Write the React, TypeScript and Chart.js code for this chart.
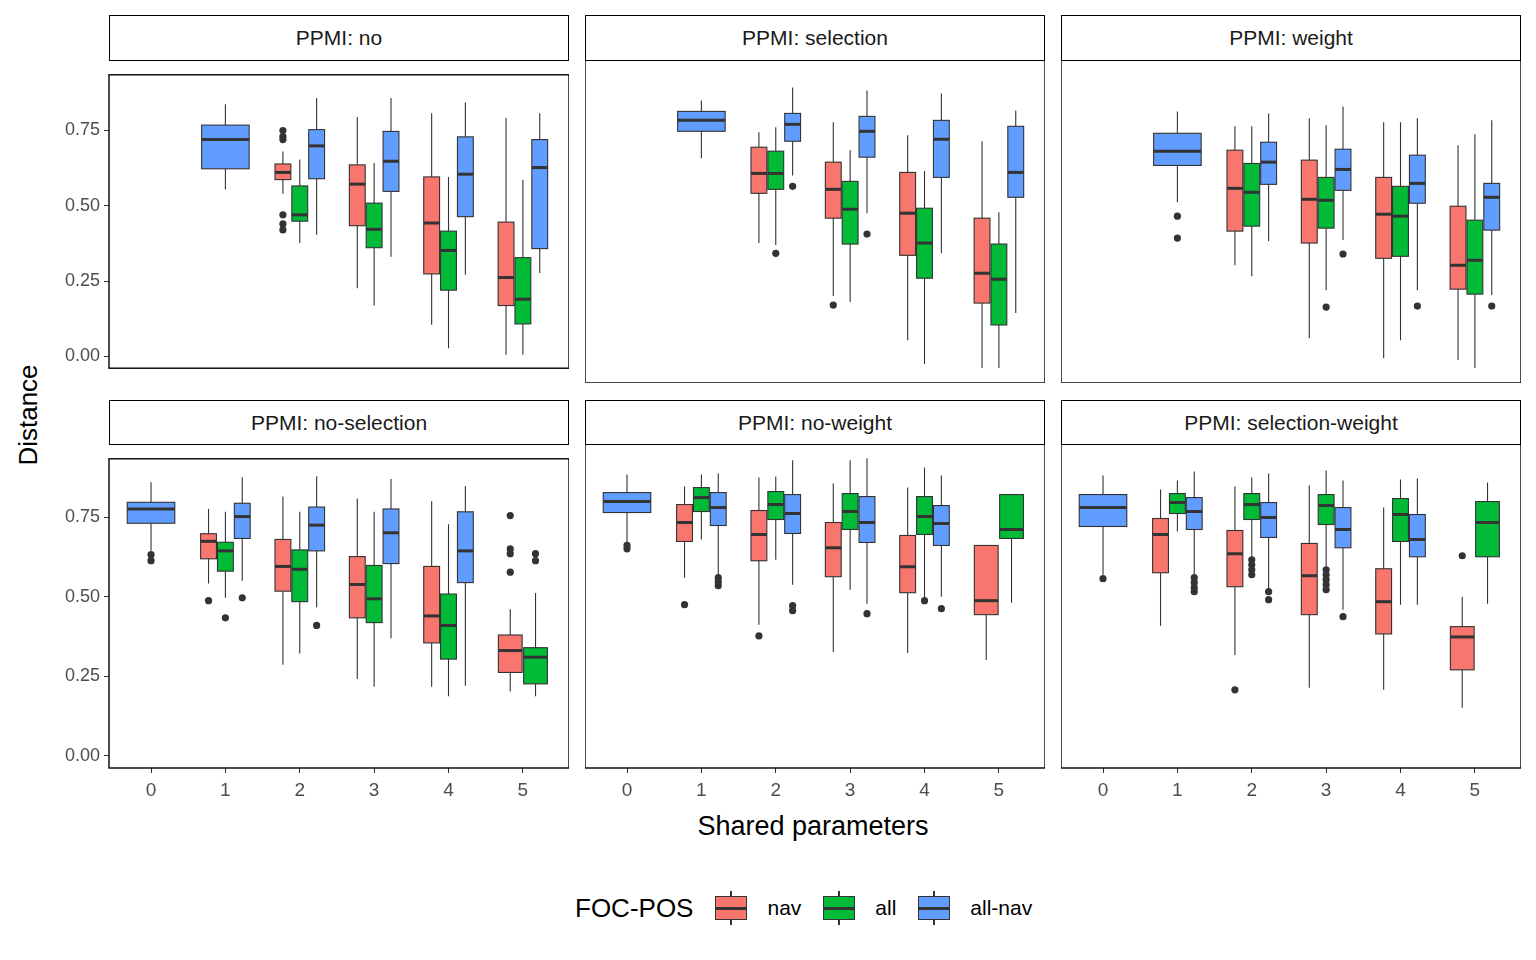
import React, { useEffect, useRef } from "react";
import { Chart, registerables } from "chart.js";
Chart.register(...registerables);

const categories = [0, 1, 2, 3, 4, 5];
const groups = ["nav", "all", "all-nav"];
const groupColors = ["#F8766D", "#00BA38", "#619CFF"];
const yTicks = [0, 0.25, 0.5, 0.75];
const panelTitles = ["PPMI: no", "PPMI: selection", "PPMI: weight", "PPMI: no-selection", "PPMI: no-weight", "PPMI: selection-weight"];

// [category, groupIndex, whiskerLow, q1, median, q3, whiskerHigh, outliers]
type Box = [number, number, number, number, number, number, number, number[]];

const ppmiNo: Box[] = [
  [1, 2, 0.554, 0.623, 0.72, 0.768, 0.837, []],
  [2, 0, 0.54, 0.587, 0.611, 0.639, 0.68, [0.75, 0.73, 0.72, 0.47, 0.44, 0.42]],
  [2, 1, 0.377, 0.449, 0.47, 0.566, 0.654, []],
  [2, 2, 0.404, 0.59, 0.699, 0.753, 0.858, []],
  [3, 0, 0.226, 0.434, 0.572, 0.636, 0.795, []],
  [3, 1, 0.169, 0.361, 0.422, 0.509, 0.642, []],
  [3, 2, 0.331, 0.548, 0.648, 0.747, 0.858, []],
  [4, 0, 0.105, 0.274, 0.443, 0.596, 0.807, []],
  [4, 1, 0.027, 0.22, 0.352, 0.416, 0.596, []],
  [4, 2, 0.271, 0.464, 0.605, 0.729, 0.843, []],
  [5, 0, 0.006, 0.169, 0.262, 0.446, 0.792, []],
  [5, 1, 0.006, 0.108, 0.19, 0.328, 0.587, []],
  [5, 2, 0.277, 0.358, 0.627, 0.72, 0.807, []],
];
const ppmiSelection: Box[] = [
  [1, 2, 0.639, 0.72, 0.753, 0.78, 0.813, []],
  [2, 0, 0.383, 0.533, 0.593, 0.672, 0.717, []],
  [2, 1, 0.377, 0.545, 0.593, 0.66, 0.732, [0.352]],
  [2, 2, 0.587, 0.69, 0.741, 0.774, 0.852, [0.554]],
  [3, 0, 0.223, 0.458, 0.545, 0.627, 0.747, [0.196]],
  [3, 1, 0.205, 0.38, 0.485, 0.569, 0.663, []],
  [3, 2, 0.473, 0.642, 0.72, 0.765, 0.843, [0.41]],
  [4, 0, 0.09, 0.346, 0.473, 0.596, 0.708, []],
  [4, 1, 0.018, 0.277, 0.383, 0.488, 0.6, []],
  [4, 2, 0.352, 0.581, 0.696, 0.753, 0.834, []],
  [5, 0, 0.006, 0.202, 0.292, 0.458, 0.69, []],
  [5, 1, 0.006, 0.136, 0.274, 0.38, 0.476, []],
  [5, 2, 0.172, 0.521, 0.596, 0.735, 0.783, []],
];
const ppmiWeight: Box[] = [
  [1, 2, 0.506, 0.617, 0.66, 0.714, 0.78, [0.464, 0.398]],
  [2, 0, 0.316, 0.419, 0.548, 0.663, 0.735, []],
  [2, 1, 0.283, 0.434, 0.536, 0.623, 0.735, []],
  [2, 2, 0.389, 0.56, 0.627, 0.687, 0.774, []],
  [3, 0, 0.096, 0.383, 0.515, 0.633, 0.759, []],
  [3, 1, 0.241, 0.428, 0.512, 0.581, 0.738, [0.19]],
  [3, 2, 0.392, 0.542, 0.605, 0.666, 0.795, [0.35]],
  [4, 0, 0.036, 0.337, 0.47, 0.581, 0.747, []],
  [4, 1, 0.09, 0.343, 0.464, 0.554, 0.747, []],
  [4, 2, 0.241, 0.503, 0.563, 0.648, 0.759, [0.193]],
  [5, 0, 0.03, 0.244, 0.316, 0.494, 0.678, []],
  [5, 1, 0.006, 0.229, 0.331, 0.452, 0.711, []],
  [5, 2, 0.226, 0.422, 0.521, 0.563, 0.753, [0.193]],
];
const ppmiNoSelection: Box[] = [
  [0, 2, 0.645, 0.732, 0.777, 0.798, 0.861, [0.633, 0.614]],
  [1, 0, 0.542, 0.62, 0.675, 0.699, 0.777, [0.488]],
  [1, 1, 0.497, 0.581, 0.645, 0.672, 0.768, [0.434]],
  [1, 2, 0.551, 0.684, 0.753, 0.795, 0.877, [0.497]],
  [2, 0, 0.286, 0.518, 0.596, 0.681, 0.816, []],
  [2, 1, 0.322, 0.485, 0.587, 0.648, 0.768, []],
  [2, 2, 0.467, 0.645, 0.726, 0.783, 0.88, [0.41]],
  [3, 0, 0.241, 0.434, 0.539, 0.627, 0.81, []],
  [3, 1, 0.217, 0.419, 0.494, 0.599, 0.768, []],
  [3, 2, 0.37, 0.605, 0.702, 0.777, 0.871, []],
  [4, 0, 0.217, 0.355, 0.44, 0.596, 0.801, []],
  [4, 1, 0.187, 0.304, 0.41, 0.509, 0.729, []],
  [4, 2, 0.22, 0.545, 0.645, 0.768, 0.849, []],
  [5, 0, 0.202, 0.262, 0.331, 0.38, 0.461, [0.756, 0.651, 0.636, 0.578]],
  [5, 1, 0.187, 0.226, 0.31, 0.34, 0.512, [0.636, 0.614]],
];
const ppmiNoWeight: Box[] = [
  [0, 2, 0.64, 0.729, 0.762, 0.789, 0.843, [0.63, 0.62]],
  [1, 0, 0.533, 0.642, 0.699, 0.753, 0.807, [0.452]],
  [1, 1, 0.648, 0.732, 0.774, 0.804, 0.843, []],
  [1, 2, 0.536, 0.69, 0.744, 0.789, 0.846, [0.533, 0.521, 0.509]],
  [2, 0, 0.392, 0.584, 0.663, 0.735, 0.834, [0.358]],
  [2, 1, 0.587, 0.708, 0.753, 0.792, 0.837, []],
  [2, 2, 0.512, 0.666, 0.726, 0.783, 0.886, [0.449, 0.434]],
  [3, 0, 0.31, 0.536, 0.623, 0.699, 0.816, []],
  [3, 1, 0.497, 0.678, 0.732, 0.786, 0.886, []],
  [3, 2, 0.455, 0.639, 0.699, 0.777, 0.892, [0.425]],
  [4, 0, 0.307, 0.488, 0.566, 0.66, 0.804, []],
  [4, 1, 0.47, 0.663, 0.717, 0.777, 0.864, [0.464]],
  [4, 2, 0.476, 0.63, 0.696, 0.75, 0.84, [0.44]],
  [5, 0, 0.286, 0.422, 0.464, 0.63, 0.63, []],
  [5, 1, 0.458, 0.651, 0.678, 0.783, 0.783, []],
];
const ppmiSelectionWeight: Box[] = [
  [0, 2, 0.542, 0.687, 0.744, 0.783, 0.84, [0.53]],
  [1, 0, 0.389, 0.548, 0.663, 0.711, 0.798, []],
  [1, 1, 0.672, 0.726, 0.759, 0.786, 0.825, []],
  [1, 2, 0.536, 0.678, 0.732, 0.774, 0.852, [0.533, 0.518, 0.503, 0.491]],
  [2, 0, 0.301, 0.506, 0.605, 0.675, 0.807, [0.196]],
  [2, 1, 0.593, 0.708, 0.753, 0.786, 0.834, [0.587, 0.572, 0.557, 0.542]],
  [2, 2, 0.497, 0.654, 0.714, 0.759, 0.846, [0.491, 0.467]],
  [3, 0, 0.202, 0.422, 0.539, 0.636, 0.81, []],
  [3, 1, 0.566, 0.693, 0.75, 0.783, 0.855, [0.557, 0.542, 0.527, 0.512, 0.497]],
  [3, 2, 0.437, 0.623, 0.678, 0.744, 0.825, [0.416]],
  [4, 0, 0.196, 0.364, 0.461, 0.56, 0.744, []],
  [4, 1, 0.452, 0.642, 0.723, 0.771, 0.828, []],
  [4, 2, 0.452, 0.596, 0.648, 0.723, 0.831, []],
  [5, 0, 0.142, 0.256, 0.355, 0.386, 0.476, [0.599]],
  [5, 1, 0.455, 0.596, 0.699, 0.762, 0.819, []],
];
const panelData = [ppmiNo, ppmiSelection, ppmiWeight, ppmiNoSelection, ppmiNoWeight, ppmiSelectionWeight];

const PANEL_LEFTS = [109, 585, 1061];
const PANEL_W = 460;
const ROWS = [{ strip: 15, top: 60, bottom: 383 }, { strip: 400, top: 444, bottom: 768 }];
const YAXIS_W = 58;
const XAXIS_H = 40;
const FONT = "'Liberation Sans', Arial, sans-serif";

const boxPlugin = {
  id: "boxes",
  afterDatasetsDraw(chart: any) {
    const boxes: Box[] = chart.options.plugins.boxes.data;
    const xs = chart.scales.x, ys = chart.scales.y;
    const ctx = chart.ctx;
    const W = 0.68;
    ctx.save();
    for (const b of boxes) {
      const [cat, g, lo, q1, med, q3, hi, outs] = b;
      const members = boxes.filter((o) => o[0] === cat).map((o) => o[1]).sort();
      const n = members.length, idx = members.indexOf(g);
      const bw = W / n;
      const c = cat - W / 2 + bw * (idx + 0.5);
      const xl = xs.getPixelForValue(c - bw * 0.47), xr = xs.getPixelForValue(c + bw * 0.47);
      const xc = xs.getPixelForValue(c);
      ctx.strokeStyle = "#333333";
      ctx.lineWidth = 1.1;
      ctx.beginPath();
      ctx.moveTo(xc, ys.getPixelForValue(q3)); ctx.lineTo(xc, ys.getPixelForValue(hi));
      ctx.moveTo(xc, ys.getPixelForValue(q1)); ctx.lineTo(xc, ys.getPixelForValue(lo));
      ctx.stroke();
      const yt = ys.getPixelForValue(q3), yb = ys.getPixelForValue(q1);
      ctx.fillStyle = groupColors[g];
      ctx.fillRect(xl, yt, xr - xl, yb - yt);
      ctx.strokeRect(xl, yt, xr - xl, yb - yt);
      ctx.lineWidth = 3;
      ctx.beginPath();
      const ym = ys.getPixelForValue(med);
      ctx.moveTo(xl, ym); ctx.lineTo(xr, ym);
      ctx.stroke();
      ctx.fillStyle = "#333333";
      for (const o of outs) {
        ctx.beginPath();
        ctx.arc(xc, ys.getPixelForValue(o), 3.6, 0, Math.PI * 2);
        ctx.fill();
      }
    }
    const a = chart.chartArea;
    ctx.strokeStyle = "#000";
    ctx.lineWidth = 1.4;
    ctx.strokeRect(a.left, a.top, a.right - a.left, a.bottom - a.top);
    ctx.restore();
  },
};

function Panel({ index }: { index: number }) {
  const ref = useRef<HTMLCanvasElement>(null);
  const col = index % 3, row = Math.floor(index / 3);
  const isLeft = col === 0, isBottom = row === 1;
  const r = ROWS[row];
  const plotH = r.bottom - r.top;
  const w = PANEL_W + (isLeft ? YAXIS_W : 0);
  const h = plotH + (isBottom ? XAXIS_H : 0);
  useEffect(() => {
    const tickFont = { family: FONT, size: 18 };
    const chart = new Chart(ref.current!, {
      type: "scatter",
      data: { datasets: [] },
      plugins: [boxPlugin],
      options: {
        animation: false,
        responsive: false,
        layout: { padding: 0 },
        plugins: { legend: { display: false }, tooltip: { enabled: false }, boxes: { data: panelData[index] } } as any,
        scales: {
          x: {
            type: "linear", min: -0.565, max: 5.62, display: isBottom,
            afterBuildTicks: (s: any) => { s.ticks = categories.map((v) => ({ value: v })); },
            afterFit: (s: any) => { s.height = isBottom ? XAXIS_H : 0; },
            ticks: { color: "#4D4D4D", font: { family: FONT, size: 19 }, padding: 6, maxRotation: 0, callback: (v: any) => String(v) },
            grid: { drawOnChartArea: false, tickLength: 5, color: "#333333" },
            border: { display: false },
          },
          y: {
            type: "linear", min: -0.039, max: 0.935, display: isLeft,
            afterBuildTicks: (s: any) => { s.ticks = yTicks.map((v) => ({ value: v })); },
            afterFit: (s: any) => { s.width = isLeft ? YAXIS_W : 0; },
            ticks: { color: "#4D4D4D", font: tickFont, padding: 4, callback: (v: any) => Number(v).toFixed(2) },
            grid: { drawOnChartArea: false, tickLength: 5, color: "#333333" },
            border: { display: false },
          },
        },
      },
    });
    return () => chart.destroy();
  }, []);
  const left = PANEL_LEFTS[col];
  return (
    <>
      <div style={{ position: "absolute", left, top: r.strip, width: PANEL_W, height: r.top - r.strip + 1, border: "1.4px solid #000", boxSizing: "border-box", background: "#fff", display: "flex", alignItems: "center", justifyContent: "center", fontFamily: FONT, fontSize: 21, color: "#1A1A1A" }}>
        {panelTitles[index]}
      </div>
      <canvas ref={ref} width={w} height={h} style={{ position: "absolute", left: left - (isLeft ? YAXIS_W : 0), top: r.top, width: w, height: h }} />
    </>
  );
}

function LegendKey({ color }: { color: string }) {
  return (
    <div style={{ position: "relative", width: 36, height: 34 }}>
      <div style={{ position: "absolute", left: 17, top: 0, width: 1.2, height: 34, background: "#333" }} />
      <div style={{ position: "absolute", left: 2, top: 5, width: 32, height: 24, background: color, border: "1.2px solid #333", boxSizing: "border-box" }} />
      <div style={{ position: "absolute", left: 2, top: 15.5, width: 32, height: 3, background: "#333" }} />
    </div>
  );
}

export default function App() {
  return (
    <div style={{ position: "relative", width: 1536, height: 960, fontFamily: FONT, background: "#fff", margin: -8 }}>
      {panelTitles.map((_, i) => <Panel key={i} index={i} />)}
      <div style={{ position: "absolute", left: 28, top: 415, transform: "translate(-50%,-50%) rotate(-90deg)", fontSize: 26, whiteSpace: "nowrap" }}>Distance</div>
      <div style={{ position: "absolute", left: 813, top: 826, transform: "translate(-50%,-50%)", fontSize: 27, whiteSpace: "nowrap" }}>Shared parameters</div>
      <div style={{ position: "absolute", left: 575, top: 891, height: 34, display: "flex", alignItems: "center", fontSize: 21, whiteSpace: "nowrap" }}>
        <span style={{ fontSize: 26, marginRight: 20 }}>FOC-POS</span>
        {groups.map((g, i) => (
          <div key={g} style={{ display: "flex", alignItems: "center", marginRight: 20 }}>
            <LegendKey color={groupColors[i]} />
            <span style={{ marginLeft: 18 }}>{g}</span>
          </div>
        ))}
      </div>
    </div>
  );
}
